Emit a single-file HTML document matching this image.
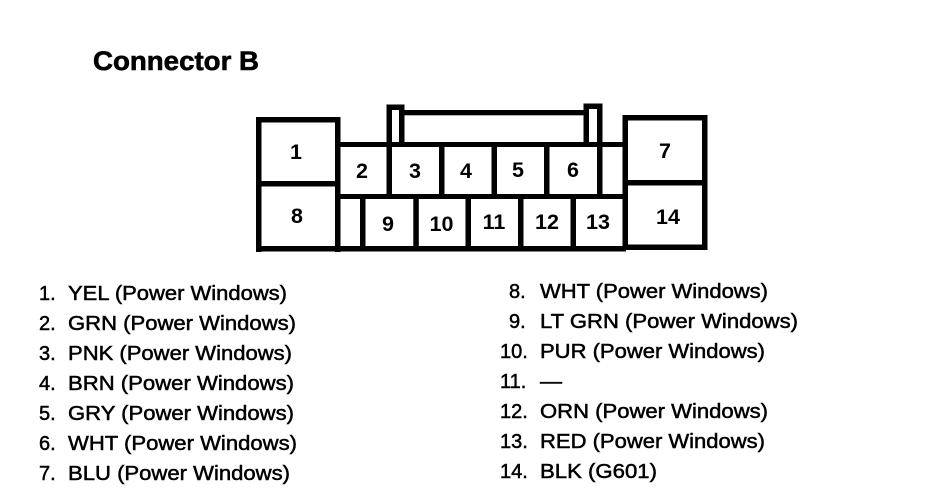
<!DOCTYPE html>
<html><head><meta charset="utf-8"><style>
html,body{margin:0;padding:0;background:#fff}
svg{display:block}
text{font-family:"Liberation Sans",sans-serif;fill:#000}
.l{font-size:20px;stroke:#000;stroke-width:.5}
.n{font-size:21.5px;font-weight:bold}
</style></head><body>
<svg width="928" height="498" viewBox="0 0 928 498" xmlns="http://www.w3.org/2000/svg">
<rect width="928" height="498" fill="#fff"/>
<text x="93" y="70" font-size="27" font-weight="bold" stroke="#000" stroke-width=".6" textLength="166" lengthAdjust="spacingAndGlyphs">Connector B</text>
<g fill="#000">
<!-- left box -->
<rect x="256" y="117" width="84" height="5.5"/>
<rect x="256" y="117" width="5.5" height="135"/>
<rect x="335" y="117" width="5.5" height="135"/>
<rect x="256" y="181" width="84" height="5.5"/>
<rect x="256" y="246" width="370" height="5.5"/>
<!-- right box -->
<rect x="622.5" y="115" width="85" height="5.5"/>
<rect x="622.5" y="115" width="5.5" height="135"/>
<rect x="702" y="115" width="5.5" height="135"/>
<rect x="622.5" y="180" width="85" height="5.5"/>
<rect x="622.5" y="244.5" width="85" height="5.5"/>
<!-- horizontals -->
<rect x="335" y="142" width="290" height="5"/>
<rect x="335" y="194" width="290" height="5"/>
<!-- tabs -->
<rect x="386.5" y="104.5" width="18" height="5.5"/>
<rect x="386.5" y="104.5" width="5.5" height="40"/>
<rect x="399" y="104.5" width="5.5" height="40"/>
<rect x="583.5" y="103.5" width="18.5" height="5.5"/>
<rect x="583.5" y="103.5" width="5.5" height="40"/>
<rect x="597" y="103.5" width="5.5" height="40"/>
<rect x="404" y="110" width="180" height="5.3"/>
<!-- upper verticals -->
<rect x="386.5" y="142" width="5.5" height="55"/>
<rect x="439" y="142" width="5.5" height="55"/>
<rect x="491.5" y="142" width="5.5" height="55"/>
<rect x="544" y="142" width="5.5" height="55"/>
<rect x="597" y="142" width="5.5" height="55"/>
<!-- lower verticals -->
<rect x="360" y="194" width="5.5" height="55"/>
<rect x="413.3" y="194" width="5.5" height="55"/>
<rect x="465.5" y="194" width="5.5" height="55"/>
<rect x="518" y="194" width="5.5" height="55"/>
<rect x="570.5" y="194" width="5.5" height="55"/>
</g>
<g>
<text class="n" x="296" y="159" text-anchor="middle">1</text>
<text class="n" x="362" y="178" text-anchor="middle">2</text>
<text class="n" x="415" y="178" text-anchor="middle">3</text>
<text class="n" x="466" y="178" text-anchor="middle">4</text>
<text class="n" x="518" y="177" text-anchor="middle">5</text>
<text class="n" x="573" y="177" text-anchor="middle">6</text>
<text class="n" x="665" y="158" text-anchor="middle">7</text>
<text class="n" x="297" y="223" text-anchor="middle">8</text>
<text class="n" x="388" y="231" text-anchor="middle">9</text>
<text class="n" x="441.5" y="231" text-anchor="middle">10</text>
<text class="n" x="494" y="229" text-anchor="middle">11</text>
<text class="n" x="547" y="229" text-anchor="middle">12</text>
<text class="n" x="598" y="229" text-anchor="middle">13</text>
<text class="n" x="668" y="224" text-anchor="middle">14</text>
</g>
<g>
<text class="l" x="39" y="300">1.</text><text class="l" x="68" y="300" textLength="219" lengthAdjust="spacingAndGlyphs">YEL (Power Windows)</text>
<text class="l" x="39" y="330">2.</text><text class="l" x="68" y="330" textLength="228" lengthAdjust="spacingAndGlyphs">GRN (Power Windows)</text>
<text class="l" x="39" y="360">3.</text><text class="l" x="68" y="360" textLength="224" lengthAdjust="spacingAndGlyphs">PNK (Power Windows)</text>
<text class="l" x="39" y="390">4.</text><text class="l" x="68" y="390" textLength="226" lengthAdjust="spacingAndGlyphs">BRN (Power Windows)</text>
<text class="l" x="39" y="420">5.</text><text class="l" x="68" y="420" textLength="226" lengthAdjust="spacingAndGlyphs">GRY (Power Windows)</text>
<text class="l" x="39" y="450">6.</text><text class="l" x="68" y="450" textLength="229" lengthAdjust="spacingAndGlyphs">WHT (Power Windows)</text>
<text class="l" x="39" y="480">7.</text><text class="l" x="68" y="480" textLength="222" lengthAdjust="spacingAndGlyphs">BLU (Power Windows)</text>
<text class="l" x="509" y="298">8.</text><text class="l" x="540" y="298" textLength="228" lengthAdjust="spacingAndGlyphs">WHT (Power Windows)</text>
<text class="l" x="509" y="328">9.</text><text class="l" x="540" y="328" textLength="258" lengthAdjust="spacingAndGlyphs">LT GRN (Power Windows)</text>
<text class="l" x="500" y="358">10.</text><text class="l" x="540" y="358" textLength="225" lengthAdjust="spacingAndGlyphs">PUR (Power Windows)</text>
<text class="l" x="500" y="388">11.</text><text class="l" x="540" y="388" textLength="22" lengthAdjust="spacingAndGlyphs">—</text>
<text class="l" x="500" y="418">12.</text><text class="l" x="540" y="418" textLength="228" lengthAdjust="spacingAndGlyphs">ORN (Power Windows)</text>
<text class="l" x="500" y="448">13.</text><text class="l" x="540" y="448" textLength="225" lengthAdjust="spacingAndGlyphs">RED (Power Windows)</text>
<text class="l" x="500" y="478">14.</text><text class="l" x="540" y="478" textLength="117" lengthAdjust="spacingAndGlyphs">BLK (G601)</text>
</g>
</svg>
</body></html>
